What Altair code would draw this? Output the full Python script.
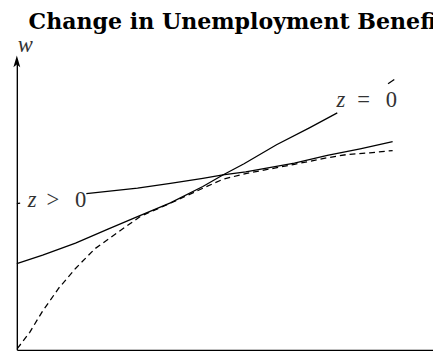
import altair as alt
import pandas as pd

# ---- data (abstract units, x: 0..10, y: 0..10) ----
# z = 0 curve (solid); the label box hides part of it, so two visible pieces
z0_x = [0.00, 0.62, 1.41, 2.19, 2.90, 3.69, 4.47, 4.95, 5.46, 6.24, 7.03, 7.70]
z0_y = [3.00, 3.29, 3.71, 4.20, 4.63, 5.11, 5.68, 6.08, 6.47, 7.13, 7.72, 8.24]
z0_tail_x = [8.92, 9.07]
z0_tail_y = [9.25, 9.40]

# z > 0 line (solid); a tiny stub shows at the axis, the rest after the label
zp_stub_x = [0.00, 0.08]
zp_stub_y = [5.08, 5.10]
zp_x = [1.67, 2.90, 3.69, 4.47, 4.95, 5.50, 6.67, 7.46, 8.25, 9.03]
zp_y = [5.43, 5.62, 5.79, 5.96, 6.08, 6.19, 6.49, 6.76, 6.99, 7.24]

# dashed envelope
env_x = [0.01, 0.31, 0.62, 1.01, 1.41, 1.88, 2.43, 2.98, 3.77, 4.47, 4.95,
         5.50, 6.67, 7.46, 7.93, 8.48, 9.03]
env_y = [0.04, 0.61, 1.35, 2.15, 2.83, 3.52, 4.09, 4.65, 5.15, 5.62, 5.93,
         6.13, 6.45, 6.68, 6.79, 6.85, 6.93]

# text labels
italic_text = ["z", "z", "w"]
italic_x = [0.26, 7.68, 0.02]
italic_y = [4.98, 8.43, 10.34]
upright_text = [">\u2002\u20090", "=\u2002\u20090"]
upright_x = [0.71, 8.18]
upright_y = [4.98, 8.43]

title_text = "Change in Unemployment Benefits"

# ---- tables ----
solid = pd.concat([
    pd.DataFrame({"x": z0_x, "y": z0_y, "seg": "z0a"}),
    pd.DataFrame({"x": z0_tail_x, "y": z0_tail_y, "seg": "z0b"}),
    pd.DataFrame({"x": zp_stub_x, "y": zp_stub_y, "seg": "zpa"}),
    pd.DataFrame({"x": zp_x, "y": zp_y, "seg": "zpb"}),
], ignore_index=True)
dashed = pd.DataFrame({"x": env_x, "y": env_y})
it_df = pd.DataFrame({"x": italic_x, "y": italic_y, "t": italic_text})
up_df = pd.DataFrame({"x": upright_x, "y": upright_y, "t": upright_text})
arrow_df = pd.DataFrame({"x": [0.0], "y": [10.02]})

xs = alt.Scale(domain=[0, 10], nice=False, zero=False)
ys = alt.Scale(domain=[0, 10], nice=False, zero=False)
ax = dict(domain=True, domainColor="black", domainWidth=1.4, ticks=False,
          labels=False, grid=False, title=None)

X = alt.X("x:Q", scale=xs, axis=alt.Axis(orient="bottom", **ax))
Y = alt.Y("y:Q", scale=ys, axis=alt.Axis(orient="left", **ax))

solid_layer = alt.Chart(solid).mark_line(color="black", strokeWidth=1.3).encode(
    x=X, y=Y, detail="seg:N", order="x:Q")
dash_layer = alt.Chart(dashed).mark_line(
    color="black", strokeWidth=1.3, strokeDash=[6, 4]).encode(
    x="x:Q", y="y:Q", order="x:Q")
it_layer = alt.Chart(it_df).mark_text(
    font="Liberation Serif", fontStyle="italic", fontSize=23, align="left",
    baseline="alphabetic", color="#333").encode(x="x:Q", y="y:Q", text="t:N")
up_layer = alt.Chart(up_df).mark_text(
    font="Liberation Serif", fontSize=23, align="left",
    baseline="alphabetic", color="#333").encode(x="x:Q", y="y:Q", text="t:N")
arrow_layer = alt.Chart(arrow_df).mark_point(
    shape="M0,-1L0.55,0.9L0,0.45L-0.55,0.9Z", filled=True, color="black",
    opacity=1, size=160).encode(x="x:Q", y="y:Q")

chart = alt.layer(dash_layer, solid_layer, it_layer, up_layer, arrow_layer).properties(
    width=424, height=293,
    autosize=alt.AutoSizeParams(type="none"),
    padding={"left": 9, "top": 52, "right": 0, "bottom": 2},
    title=alt.TitleParams(title_text, anchor="start", frame="group", dx=12,
                          offset=1, font="DejaVu Serif", fontWeight="bold",
                          fontSize=22.5, color="black"),
).configure_view(stroke=None)

chart.save("out.html", embed_options={"renderer": "svg", "actions": False})
